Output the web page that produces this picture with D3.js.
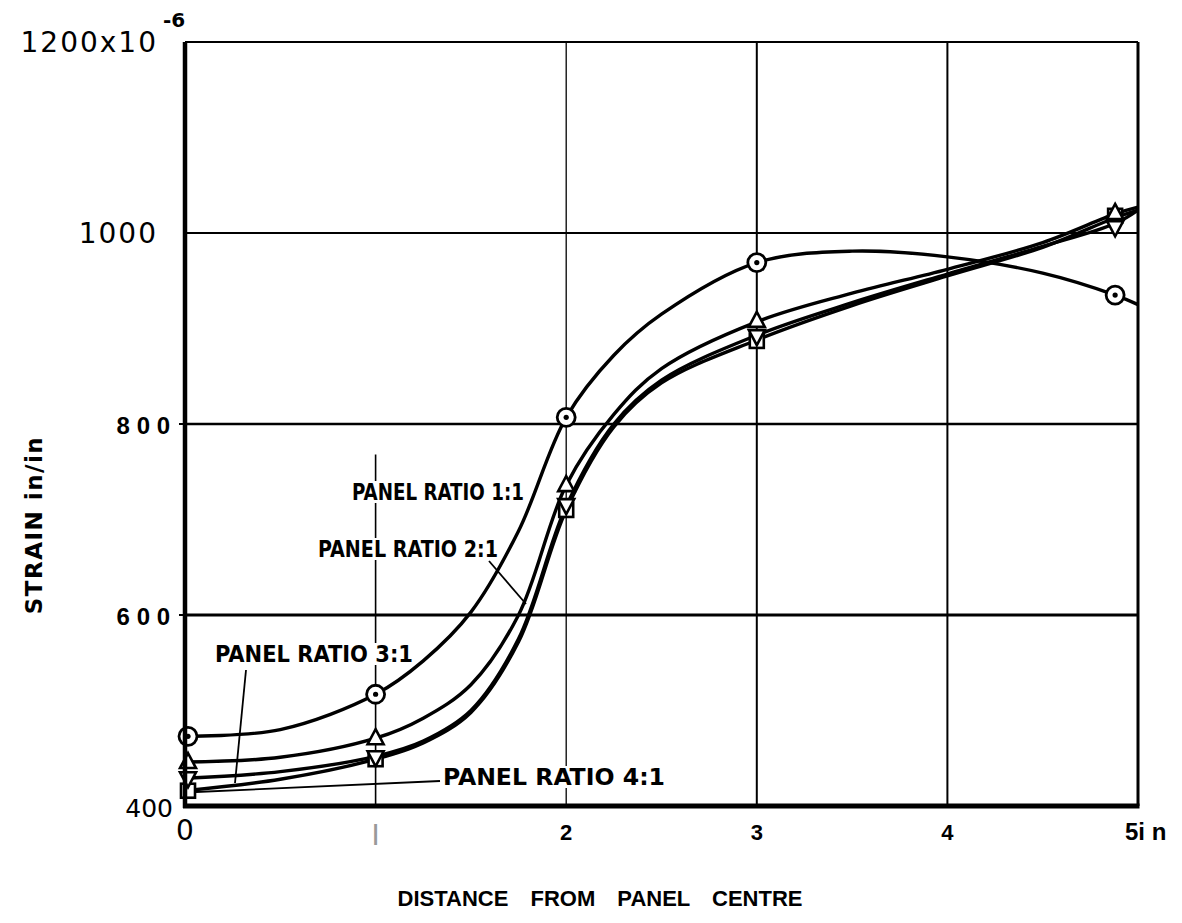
<!DOCTYPE html>
<html>
<head>
<meta charset="utf-8">
<script src="https://cdn.jsdelivr.net/npm/d3@7"></script>
<style>
  body { margin: 0; background: #fff; }
  svg { display: block; }
</style>
</head>
<body>
<div id="chart"></div>
<script>
// measured points (distance in inches, strain x10^-6)
var pointX = [0, 1, 2, 3, 4.88];
var ratio11 = [473, 517, 807, 969, 935];
var ratio21 = [446, 471, 736, 908, 1021];
var ratio31 = [429, 451, 715, 892, 1006];
var ratio41 = [416, 449, 710, 887, 1018];

// faired curves as drawn on the sheet
var curveX = [0, 0.5, 1, 1.25, 1.5, 1.75, 2, 2.25, 2.5, 3, 3.5, 4, 4.5, 4.88, 5];
var curve11 = [473, 480, 517, 552, 603, 688, 807, 872, 915, 969, 981, 975, 958, 935, 925];
var curve21 = [446, 451, 471, 492, 527, 600, 736, 810, 858, 907, 937, 962, 990, 1020, 1027];
var curve31 = [429, 436, 452, 468, 500, 575, 714, 800, 846, 893, 927, 957, 986, 1010, 1024];
var curve41 = [416, 428, 449, 466, 498, 572, 710, 797, 843, 888, 924, 955, 985, 1016, 1024];

var xTicks = [0, 1, 2, 3, 4, 5];
var xTickLabels = ["0", "1", "2", "3", "4", "5"];
var yTicks = [400, 600, 800, 1000, 1200];
var yTickLabels = ["400", "6 0 0", "8 0 0", "1000", "1200x10"];
var panelLabels = ["PANEL RATIO 1:1", "PANEL RATIO 2:1", "PANEL RATIO 3:1", "PANEL RATIO 4:1"];

var W = 1182, H = 923;
var margin = { top: 42, right: 44, bottom: 117, left: 185 };
var width = W - margin.left - margin.right;
var height = H - margin.top - margin.bottom;

var svg = d3.select("#chart").append("svg")
  .attr("width", W)
  .attr("height", H);

var g = svg.append("g")
  .attr("transform", `translate(${margin.left},${margin.top})`);

var x = d3.scaleLinear().domain([0, 5]).range([0, width]);
var y = d3.scaleLinear().domain([400, 1200]).range([height, 0]);

// horizontal grid
var hGrid = [600, 800, 1000];
var hWidth = { 600: 3.2, 800: 2.4, 1000: 2 };
g.selectAll(".hgrid")
  .data(hGrid)
  .enter()
  .append("line")
  .attr("x1", 0).attr("x2", width)
  .attr("y1", d => y(d)).attr("y2", d => y(d))
  .attr("stroke", "#000")
  .attr("stroke-width", d => hWidth[d]);

// vertical grid
g.selectAll(".vgrid")
  .data([2, 3, 4])
  .enter()
  .append("line")
  .attr("x1", d => x(d)).attr("x2", d => x(d))
  .attr("y1", 0).attr("y2", height)
  .attr("stroke", "#000")
  .attr("stroke-width", d => d == 2 ? 1.3 : 2);

// the x=1 line only runs through the lower part
g.append("line")
  .attr("x1", x(1)).attr("x2", x(1))
  .attr("y1", y(768)).attr("y2", height)
  .attr("stroke", "#000")
  .attr("stroke-width", 1.6);

// frame
g.append("line").attr("x1", 0).attr("x2", width).attr("y1", 0).attr("y2", 0)
  .attr("stroke", "#000").attr("stroke-width", 2);
g.append("line").attr("x1", width).attr("x2", width).attr("y1", 0).attr("y2", height)
  .attr("stroke", "#000").attr("stroke-width", 3);

// left tick stubs
g.selectAll(".ystub")
  .data([600, 800])
  .enter()
  .append("line")
  .attr("x1", -6).attr("x2", 0)
  .attr("y1", d => y(d)).attr("y2", d => y(d))
  .attr("stroke", "#000").attr("stroke-width", 2);

// labels with white knock-out boxes
var labelFont = "'Liberation Sans Narrow', 'DejaVu Sans Condensed', sans-serif";
var labelPos = [
  { x: 352, y: 500, w: 172 },
  { x: 318, y: 557, w: 180 },
  { x: 215, y: 662, w: 198 },
  { x: 443, y: 785, w: 222 }
];

// leader lines
var leaders = [
  [[489, 561], [526, 604]],
  [[246, 670], [235, 783]],
  [[196, 792], [440, 781]]
];
svg.selectAll(".leader")
  .data(leaders)
  .enter()
  .append("line")
  .attr("x1", d => d[0][0]).attr("y1", d => d[0][1])
  .attr("x2", d => d[1][0]).attr("y2", d => d[1][1])
  .attr("stroke", "#000").attr("stroke-width", 1.8);

panelLabels.forEach(function (txt, i) {
  var p = labelPos[i];
  svg.append("rect")
    .attr("x", p.x - 2).attr("y", p.y - 19)
    .attr("width", p.w + 4).attr("height", 22)
    .attr("fill", "#fff");
  svg.append("text")
    .attr("x", p.x).attr("y", p.y)
    .attr("textLength", p.w)
    .attr("lengthAdjust", "spacingAndGlyphs")
    .style("font-family", labelFont)
    .style("font-size", "23px")
    .style("font-weight", "bold")
    .text(txt);
});

// curves
var line = d3.line()
  .x(d => x(d[0]))
  .y(d => y(d[1]))
  .curve(d3.curveCatmullRom.alpha(0.5));

[curve11, curve21, curve31, curve41].forEach(function (vals) {
  g.append("path")
    .datum(curveX.map((cx, i) => [cx, vals[i]]))
    .attr("d", line)
    .attr("fill", "none")
    .attr("stroke", "#000")
    .attr("stroke-width", 3.4);
});

// markers
function drawMarkers(vals, type) {
  var sel = g.selectAll(".m-" + type)
    .data(pointX.map((px, i) => [px, vals[i]]))
    .enter()
    .append("g")
    .attr("class", "m-" + type)
    .attr("transform", d => `translate(${x(d[0]) + (d[0] == 0 ? 3 : 0)},${y(d[1])})`);
  if (type == "circle") {
    sel.append("circle").attr("r", 9).attr("fill", "#fff")
      .attr("stroke", "#000").attr("stroke-width", 2.8);
    sel.append("circle").attr("r", 2.6).attr("fill", "#000");
  } else if (type == "tri") {
    sel.append("path").attr("d", "M0,-9L8,6L-8,6Z").attr("fill", "#fff")
      .attr("stroke", "#000").attr("stroke-width", 2.6);
  } else if (type == "itri") {
    sel.append("path").attr("d", "M-8,-6L8,-6L0,9Z").attr("fill", "#fff")
      .attr("stroke", "#000").attr("stroke-width", 2.6);
  } else {
    sel.append("rect").attr("x", -7).attr("y", -7).attr("width", 14).attr("height", 14)
      .attr("fill", "#fff").attr("stroke", "#000").attr("stroke-width", 2.6);
  }
}
drawMarkers(ratio41, "square");
drawMarkers(ratio31, "itri");
drawMarkers(ratio21, "tri");
drawMarkers(ratio11, "circle");

// axes (drawn last so they sit on top)
g.append("line").attr("x1", 0).attr("x2", 0).attr("y1", 0).attr("y2", height + 2)
  .attr("stroke", "#000").attr("stroke-width", 4.5);
g.append("line").attr("x1", -2).attr("x2", width + 1.5).attr("y1", height).attr("y2", height)
  .attr("stroke", "#000").attr("stroke-width", 5);

// y tick labels
var roundFont = "'DejaVu Sans', sans-serif";
g.selectAll(".ylab")
  .data(yTicks)
  .enter()
  .append("text")
  .attr("x", (d, i) => [-12, -15, -15, -27, -27][i])
  .attr("y", d => y(d) + (d == 400 ? 11 : 10))
  .attr("text-anchor", "end")
  .style("font-family", (d, i) => (i == 1 || i == 2) ? "'Liberation Sans', sans-serif" : roundFont)
  .style("font-weight", (d, i) => (i == 1 || i == 2) ? "bold" : "normal")
  .style("font-size", (d, i) => (i == 1 || i == 2) ? "24px" : (i == 0 ? "25px" : "28px"))
  .style("letter-spacing", (d, i) => (i >= 3) ? "2px" : "0px")
  .text((d, i) => yTickLabels[i]);

svg.append("text")
  .attr("x", 163).attr("y", 27)
  .style("font-family", roundFont)
  .style("font-size", "20px")
  .style("font-weight", "bold")
  .text("-6");

// x tick labels
g.selectAll(".xlab")
  .data(xTicks)
  .enter()
  .append("text")
  .attr("x", d => x(d) + (d == 5 ? -13 : 0))
  .attr("y", height + 34)
  .attr("text-anchor", d => d == 5 ? "start" : "middle")
  .style("font-family", d => d == 0 ? roundFont : "'Liberation Sans', sans-serif")
  .style("font-weight", d => d == 0 ? "normal" : "bold")
  .style("font-size", d => d == 0 ? "28px" : (d == 5 ? "24px" : "22px"))
  .attr("fill", d => d == 1 ? "#999" : "#000")
  .text((d, i) => d == 5 ? xTickLabels[i] + "i n" : (d == 1 ? "|" : xTickLabels[i]));

// axis titles
svg.append("text")
  .attr("transform", "translate(42,525) rotate(-90)")
  .attr("text-anchor", "middle")
  .style("font-family", roundFont)
  .style("font-size", "23px")
  .style("letter-spacing", "1.5px")
  .style("font-weight", "bold")
  .text("STRAIN in/in");

svg.append("text")
  .attr("x", 600).attr("y", 906)
  .attr("text-anchor", "middle")
  .style("font-family", "'Liberation Sans', Arial, sans-serif")
  .style("font-weight", "bold")
  .style("font-size", "22px")
  .style("word-spacing", "16px")
  .text("DISTANCE FROM PANEL CENTRE");
</script>
</body>
</html>
